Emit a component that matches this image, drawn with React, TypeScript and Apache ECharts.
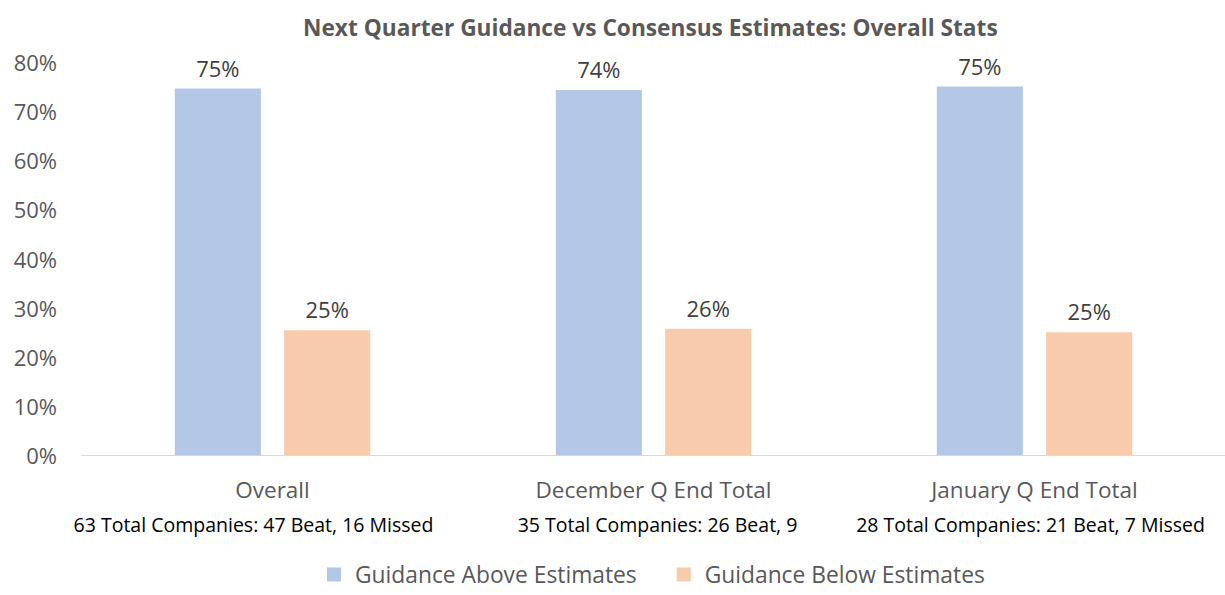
import React, { useEffect, useRef } from "react";
import * as echarts from "echarts";

const categories = ["Overall", "December Q End Total", "January Q End Total"];
const subtitles = [
  "63 Total Companies: 47 Beat, 16 Missed",
  "35 Total Companies: 26 Beat, 9",
  "28 Total Companies: 21 Beat, 7 Missed",
];
const aboveValues = [74.6, 74.3, 75.0];
const belowValues = [25.4, 25.7, 25.0];
const seriesNames = ["Guidance Above Estimates", "Guidance Below Estimates"];
const titleText = "Next Quarter Guidance vs Consensus Estimates: Overall Stats";

const FONT = "'Open Sans', Lato, sans-serif";
const GRAY = "#595959";

export default function App() {
  const ref = useRef<HTMLDivElement>(null);
  useEffect(() => {
    if (!ref.current) return;
    const chart = echarts.init(ref.current, null, { renderer: "svg" });
    const labelFmt = (p: any) => Math.round(p.value) + "%";
    const sub = { fontFamily: FONT, fontSize: 19.5, color: "#000000", lineHeight: 34 };
    chart.setOption({
      animation: false,
      backgroundColor: "#ffffff",
      title: {
        text: titleText,
        left: 298,
        top: 11,
        textStyle: { fontFamily: FONT, fontSize: 22.7, fontWeight: "bold", color: GRAY },
      },
      legend: {
        bottom: 4,
        left: 322,
        itemWidth: 14,
        itemHeight: 14,
        itemGap: 40,
        icon: "rect",
        textStyle: { fontFamily: FONT, fontSize: 22.8, color: GRAY, padding: [0, 0, 0, 9] },
        data: seriesNames,
      },
      grid: { left: 82, right: 0, top: 62, bottom: 140, containLabel: false },
      xAxis: {
        type: "category",
        data: categories,
        axisLine: { lineStyle: { color: "#D9D9D9", width: 1 } },
        axisTick: { show: false },
        axisLabel: {
          interval: 0,
          margin: 16,
          formatter: (v: string, i: number) => `{c|${v}}\n{s${i}|${subtitles[i]}}`,
          rich: {
            c: { fontFamily: FONT, fontSize: 22.5, color: GRAY, lineHeight: 36 },
            s0: { ...sub, padding: [0, 38, 0, 0] },
            s1: { ...sub, padding: [0, 0, 0, 8] },
            s2: { ...sub, padding: [0, 8, 0, 0] },
          },
        },
      },
      yAxis: {
        type: "value",
        min: 0,
        max: 80,
        interval: 10,
        splitLine: { show: false },
        axisLine: { show: false },
        axisTick: { show: false },
        axisLabel: {
          formatter: "{value}%",
          margin: 25,
          fontFamily: FONT,
          fontSize: 22,
          color: GRAY,
        },
      },
      series: [
        {
          name: seriesNames[0],
          type: "bar",
          data: aboveValues,
          barWidth: "22.6%",
          barGap: "27%",
          itemStyle: { color: "#B4C7E7" },
          label: {
            show: true,
            position: "top",
            distance: 10,
            formatter: labelFmt,
            fontFamily: FONT,
            fontSize: 22,
            color: "#404040",
          },
        },
        {
          name: seriesNames[1],
          type: "bar",
          data: belowValues,
          barWidth: "22.6%",
          barGap: "27%",
          itemStyle: { color: "#F8CBAD" },
          label: {
            show: true,
            position: "top",
            distance: 10,
            formatter: labelFmt,
            fontFamily: FONT,
            fontSize: 22,
            color: "#404040",
          },
        },
      ],
    });
    return () => chart.dispose();
  }, []);
  return (
    <div
      ref={ref}
      style={{ position: "fixed", left: 0, top: 0, width: 1225, height: 595 }}
    />
  );
}
